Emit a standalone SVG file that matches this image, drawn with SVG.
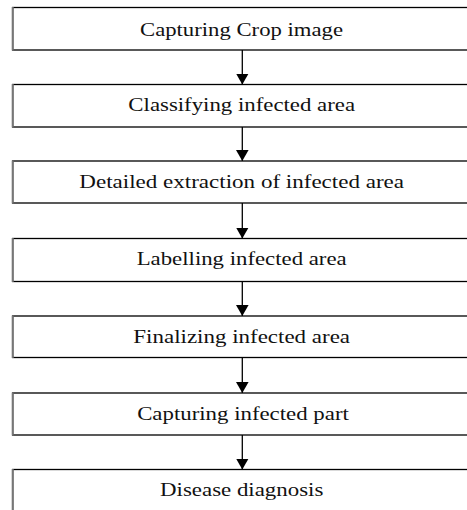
<svg xmlns="http://www.w3.org/2000/svg" width="467" height="510" viewBox="0 0 467 510">
  <style>
    .box { fill: #ffffff; stroke: #000000; stroke-width: 1.3; }
    .edge { stroke: #777777; stroke-width: 2; }
    .label { font-family: "Liberation Serif", "Times New Roman", serif; font-size: 19.3px; fill: #111111; text-anchor: middle; }
    .conn { stroke: #000000; stroke-width: 1.3; fill: none; }
  </style>
  <defs>
    <marker id="head" viewBox="0 0 11 12.6" refX="11" refY="6.3" markerWidth="11" markerHeight="12.6" markerUnits="userSpaceOnUse" orient="auto">
      <path d="M0,0 L11,6.3 L0,12.6 z" fill="#000000"/>
    </marker>
  </defs>
  <rect width="467" height="510" fill="#ffffff"/>

  <g id="connectors">
    <line class="conn" x1="242.3" y1="50" x2="242.3" y2="84.5" marker-end="url(#head)"/>
    <line class="conn" x1="242.3" y1="127" x2="242.3" y2="161" marker-end="url(#head)"/>
    <line class="conn" x1="242.3" y1="203" x2="242.3" y2="238.5" marker-end="url(#head)"/>
    <line class="conn" x1="242.3" y1="281.5" x2="242.3" y2="316" marker-end="url(#head)"/>
    <line class="conn" x1="242.3" y1="357.5" x2="242.3" y2="393" marker-end="url(#head)"/>
    <line class="conn" x1="242.3" y1="435" x2="242.3" y2="469.5" marker-end="url(#head)"/>
  </g>

  <g id="node1">
    <rect class="box" x="12.7" y="7.5" width="470" height="42.5"/>
    <line class="edge" x1="12.7" y1="7" x2="12.7" y2="50.5"/>
    <text class="label" x="241.5" y="35.5" textLength="203" lengthAdjust="spacingAndGlyphs">Capturing Crop image</text>
  </g>
  <g id="node2">
    <rect class="box" x="12.7" y="84.5" width="470" height="42.5"/>
    <line class="edge" x1="12.7" y1="84" x2="12.7" y2="127.5"/>
    <text class="label" x="241.7" y="110.5" textLength="226.7" lengthAdjust="spacingAndGlyphs">Classifying infected area</text>
  </g>
  <g id="node3">
    <rect class="box" x="12.7" y="161" width="470" height="42"/>
    <line class="edge" x1="12.7" y1="160.5" x2="12.7" y2="203.5"/>
    <text class="label" x="241.7" y="188" textLength="324.7" lengthAdjust="spacingAndGlyphs">Detailed extraction of infected area</text>
  </g>
  <g id="node4">
    <rect class="box" x="12.7" y="238.5" width="470" height="43"/>
    <line class="edge" x1="12.7" y1="238" x2="12.7" y2="282"/>
    <text class="label" x="241.7" y="265" textLength="210" lengthAdjust="spacingAndGlyphs">Labelling infected area</text>
  </g>
  <g id="node5">
    <rect class="box" x="12.7" y="316" width="470" height="41.5"/>
    <line class="edge" x1="12.7" y1="315.5" x2="12.7" y2="358"/>
    <text class="label" x="241.7" y="342.5" textLength="216.7" lengthAdjust="spacingAndGlyphs">Finalizing infected area</text>
  </g>
  <g id="node6">
    <rect class="box" x="12.7" y="393" width="470" height="42"/>
    <line class="edge" x1="12.7" y1="392.5" x2="12.7" y2="435.5"/>
    <text class="label" x="243" y="420" textLength="211.7" lengthAdjust="spacingAndGlyphs">Capturing infected part</text>
  </g>
  <g id="node7">
    <rect class="box" x="12.7" y="469.5" width="470" height="60"/>
    <line class="edge" x1="12.7" y1="469" x2="12.7" y2="510"/>
    <text class="label" x="241.7" y="496" textLength="163.3" lengthAdjust="spacingAndGlyphs">Disease diagnosis</text>
  </g>
</svg>
